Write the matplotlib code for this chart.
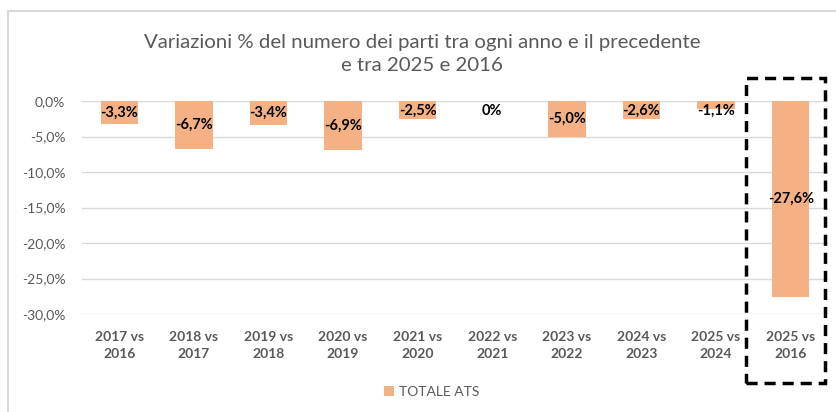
import matplotlib.pyplot as plt
from matplotlib.patches import Rectangle

# data
categories = ['2017 vs\n2016', '2018 vs\n2017', '2019 vs\n2018', '2020 vs\n2019',
              '2021 vs\n2020', '2022 vs\n2021', '2023 vs\n2022', '2024 vs\n2023',
              '2025 vs\n2024', '2025 vs\n2016']
values = [-3.3, -6.7, -3.4, -6.9, -2.5, 0.0, -5.0, -2.6, -1.1, -27.6]
value_labels = ['-3,3%', '-6,7%', '-3,4%', '-6,9%', '-2,5%', '0%',
                '-5,0%', '-2,6%', '-1,1%', '-27,6%']
yticks = [0, -5, -10, -15, -20, -25, -30]
ytick_labels = ['0,0%', '-5,0%', '-10,0%', '-15,0%', '-20,0%', '-25,0%', '-30,0%']
series_name = 'TOTALE ATS'

plt.rcParams['font.family'] = ['Lato', 'DejaVu Sans']

W, H = 837, 412
fig = plt.figure(figsize=(W / 100, H / 100), dpi=100)
ax = fig.add_axes([82 / W, 1 - 314 / H, (828 - 82) / W, (314 - 101) / H])

bar_color = '#F4B183'
x = list(range(len(values)))
ax.bar(x, values, width=0.5, color=bar_color, label=series_name, zorder=2)

for xi, v, lab in zip(x, values, value_labels):
    y = min(v / 2, -1.4)
    ax.text(xi, y, lab, ha='center', va='center', fontsize=10.5,
            fontweight='bold', color='black', zorder=3)

ax.set_xlim(-0.5, len(values) - 0.5)
ax.set_ylim(-30, 0)
ax.set_yticks(yticks)
ax.set_yticklabels(ytick_labels)
ax.set_xticks(x)
ax.set_xticklabels(categories, fontweight='bold', linespacing=1.5)
ax.tick_params(axis='y', length=0, pad=12, labelsize=10, labelcolor='#595959')
ax.tick_params(axis='x', length=0, pad=12, labelsize=10, labelcolor='#595959')
ax.grid(axis='y', color='#D9D9D9', linewidth=1, zorder=0)
ax.set_axisbelow(True)
for s in ax.spines.values():
    s.set_visible(False)

fig.text(422 / W, 1 - 54 / H,
         'Variazioni % del numero dei parti tra ogni anno e il precedente\ne tra 2025 e 2016',
         ha='center', va='center', fontsize=14.7, color='#595959', linespacing=1.4)

leg = fig.legend(loc='center', bbox_to_anchor=(432 / W, 1 - 392 / H), frameon=False,
                 fontsize=10, handlelength=0.7, handleheight=0.7, handletextpad=0.4)
for t in leg.get_texts():
    t.set_color('#595959')

# chart frame
fig.patches.append(Rectangle((8 / W, -0.1), 1.2, 1 - 11 / H + 0.1,
                             transform=fig.transFigure, fill=False,
                             edgecolor='#D9D9D9', linewidth=1.5))
# dashed highlight box
fig.patches.append(Rectangle((746 / W, 1 - 383 / H), (825 - 746) / W, (383 - 78) / H,
                             transform=fig.transFigure, fill=False,
                             edgecolor='black', linewidth=2.5,
                             linestyle=(0, (3.2, 2))))

fig.savefig('out.png', dpi=100)
